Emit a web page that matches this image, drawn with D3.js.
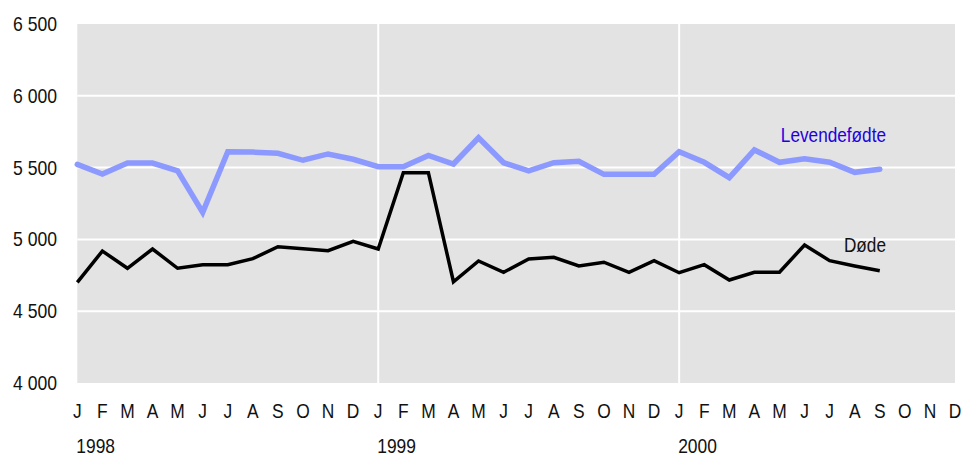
<!DOCTYPE html>
<html>
<head>
<meta charset="utf-8">
<script src="https://cdn.jsdelivr.net/npm/d3@7"></script>
<style>
    body { margin: 0; background: #fff; }
    text { font-family: "Liberation Sans", Arial, sans-serif; fill: #111; }
</style>
</head>
<body>
<svg id="chart" width="963" height="457"></svg>
<script>
// month letters, Jan 1998 .. Dec 2000
var monthLetters = ["J", "F", "M", "A", "M", "J", "J", "A", "S", "O", "N", "D"];
var years = ["1998", "1999", "2000"];
var yTicks = [4000, 4500, 5000, 5500, 6000, 6500];

// Levendefødte (live births), Jan 1998 .. Sep 2000
var births = [5522, 5455, 5532, 5532, 5478, 5188, 5611, 5608, 5600, 5551, 5595, 5558,
              5506, 5506, 5585, 5525, 5708, 5534, 5478, 5534, 5544, 5453, 5453, 5453,
              5611, 5537, 5430, 5623, 5537, 5562, 5537, 5467, 5488];

// Døde (deaths), Jan 1998 .. Sep 2000
var deaths = [4701, 4919, 4799, 4933, 4799, 4824, 4824, 4866, 4949, 4935, 4921, 4987,
              4933, 5465, 5465, 4705, 4850, 4771, 4864, 4875, 4815, 4841, 4771, 4852,
              4768, 4824, 4717, 4771, 4771, 4961, 4852, 4815, 4782];

var svg = d3.select('#chart');
var plotLeft = 77.3, plotRight = 955, plotTop = 24, plotBottom = 383;
var squeeze = 0.87;

var months = [];
years.forEach(function (yr) {
    monthLetters.forEach(function (m) { months.push(m); });
});

var x = d3.scaleLinear().domain([0, months.length - 1]).range([plotLeft, plotRight]);
var y = d3.scaleLinear().domain([4000, 6500]).range([plotBottom, plotTop]);

// plot background
svg.append('rect')
    .attr('x', plotLeft).attr('y', plotTop)
    .attr('width', plotRight - plotLeft).attr('height', plotBottom - plotTop)
    .attr('fill', '#e3e3e3');

// horizontal grid
svg.selectAll('.hgrid')
    .data(yTicks.filter(function (t) { return t > 4000 && t < 6500; }))
    .enter().append('line')
    .attr('class', 'hgrid')
    .attr('x1', plotLeft).attr('x2', plotRight)
    .attr('y1', function (d) { return y(d); })
    .attr('y2', function (d) { return y(d); })
    .attr('stroke', '#fff').attr('stroke-width', 2);

// vertical grid at each new year (except first)
svg.selectAll('.vgrid')
    .data(years.slice(1))
    .enter().append('line')
    .attr('class', 'vgrid')
    .attr('x1', function (d, i) { return x((i + 1) * 12); })
    .attr('x2', function (d, i) { return x((i + 1) * 12); })
    .attr('y1', plotTop).attr('y2', plotBottom)
    .attr('stroke', '#fff').attr('stroke-width', 2);

// y labels
svg.selectAll('.ylab')
    .data(yTicks)
    .enter().append('text')
    .attr('class', 'ylab')
    .attr('transform', function (d) { return 'translate(57,' + (y(d) + 7) + ') scale(0.88,1)'; })
    .attr('text-anchor', 'end')
    .attr('font-size', 20)
    .text(function (d) { return d3.format(',')(d).replace(',', ' '); });

// month letters
svg.selectAll('.mlab')
    .data(months)
    .enter().append('text')
    .attr('class', 'mlab')
    .attr('transform', function (d, i) { return 'translate(' + x(i) + ',418) scale(' + squeeze + ',1)'; })
    .attr('text-anchor', 'middle')
    .attr('font-size', 20)
    .text(function (d) { return d; });

// year labels
svg.selectAll('.yrlab')
    .data(years)
    .enter().append('text')
    .attr('class', 'yrlab')
    .attr('transform', function (d, i) { return 'translate(' + (x(i * 12) - 1) + ',453) scale(' + squeeze + ',1)'; })
    .attr('font-size', 20)
    .text(function (d) { return d; });

var line = d3.line()
    .x(function (d, i) { return x(i); })
    .y(function (d) { return y(d); });

svg.append('path')
    .datum(births)
    .attr('d', line)
    .attr('fill', 'none')
    .attr('stroke', '#8c99ff')
    .attr('stroke-width', 5.5)
    .attr('stroke-linecap', 'round');

svg.append('path')
    .datum(deaths)
    .attr('d', line)
    .attr('fill', 'none')
    .attr('stroke', '#000')
    .attr('stroke-width', 3.5);

// series labels
svg.append('text')
    .attr('transform', 'translate(886,142) scale(0.86,1)')
    .attr('text-anchor', 'end')
    .attr('font-size', 20)
    .style('fill', '#2200dd')
    .text('Levendefødte');

svg.append('text')
    .attr('transform', 'translate(886,252) scale(0.86,1)')
    .attr('text-anchor', 'end')
    .attr('font-size', 20)
    .text('Døde');
</script>
</body>
</html>
